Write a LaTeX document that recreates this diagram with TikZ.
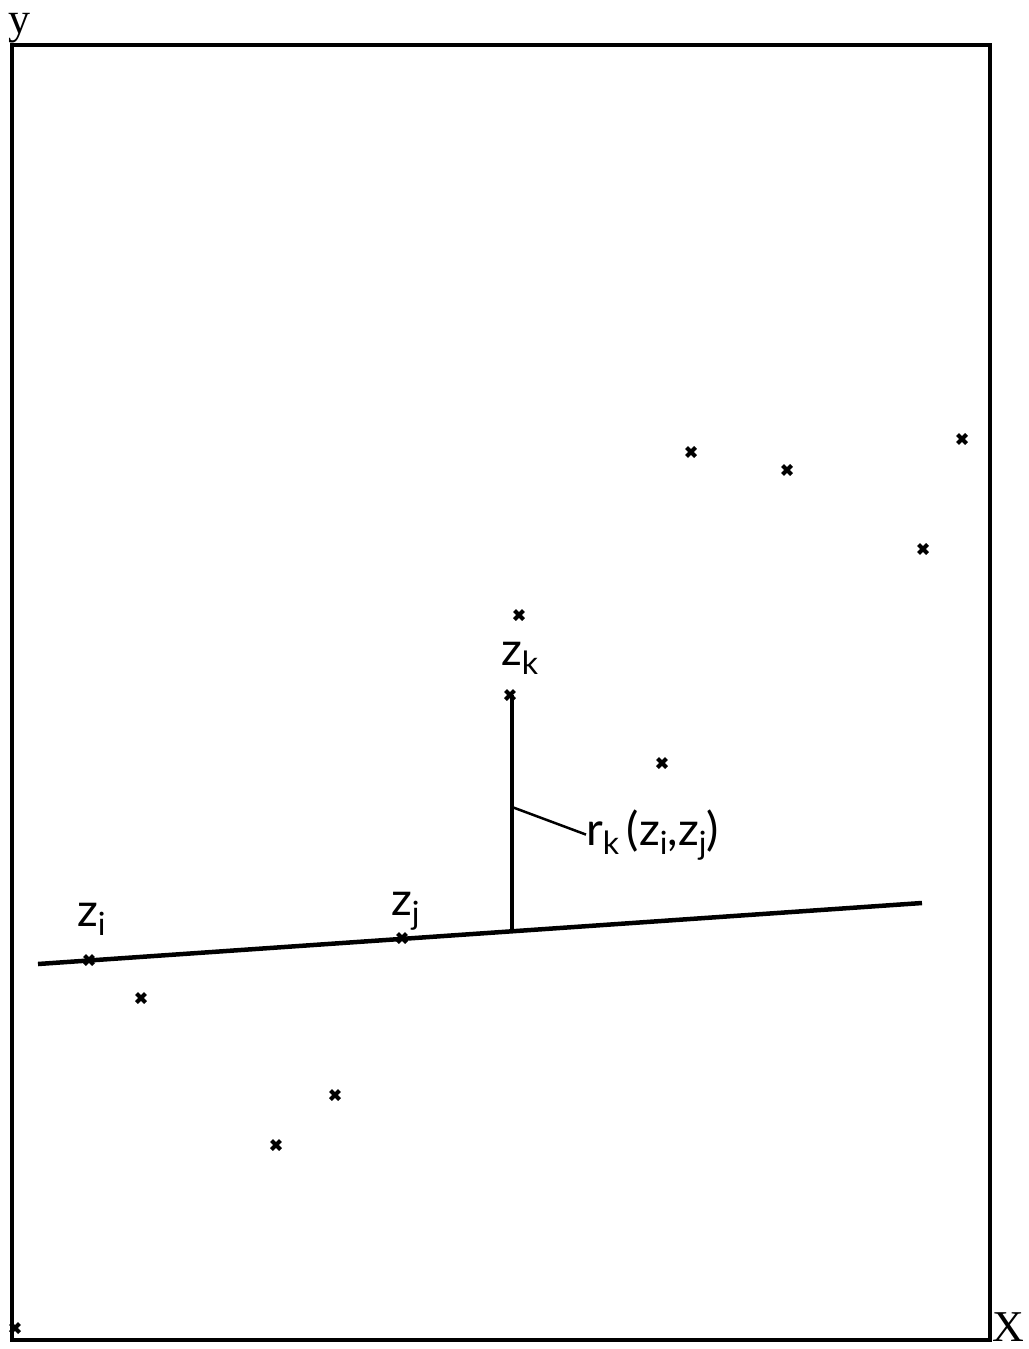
\documentclass[tikz,border=0pt]{standalone}
\usepackage{fontspec}
\setmainfont{Liberation Serif}
\newfontfamily\lblfont{Lato}
\tikzset{
  lbl/.style={font=\lblfont\fontsize{46}{50}\selectfont, inner sep=0pt, anchor=base west},
  axlbl/.style={font=\fontsize{44}{48}\selectfont, inner sep=0pt, anchor=base west},
  thick line/.style={line width=4.5pt},
  pt/.style={inner sep=0pt, minimum size=0pt},
}
\newcommand{\sbx}[1]{{\fontsize{32}{34}\selectfont\raisebox{-9pt}{#1}}}
\newcommand{\xmark}[2]{\node[pt] (#1) at (#2) {};
  \draw[line width=4pt] ([shift={(-4.5,-4.5)}]#1.center) -- ([shift={(4.5,4.5)}]#1.center)
    ([shift={(-4.5,4.5)}]#1.center) -- ([shift={(4.5,-4.5)}]#1.center);}
\begin{document}
\begin{tikzpicture}[x=1pt,y=-1pt]
\useasboundingbox (0,0) rectangle (1028,1349);
% frame
\draw[thick line] (12,45) rectangle (990,1340);
\node[axlbl] (ylab) at (8,33) {y};
\node[axlbl] (xlab) at (992,1341) {X};
% regression line
\coordinate (la) at (38,964);
\coordinate (lb) at (922,903);
\draw[thick line] (la) -- (lb);
% points
\xmark{p1}{691,452}
\xmark{p2}{787,470}
\xmark{p3}{962,439}
\xmark{p4}{923,549}
\xmark{p5}{519,615}
\xmark{zk}{510,695}
\xmark{p7}{662,763}
\xmark{p8}{141,998}
\xmark{p9}{335,1095}
\xmark{p10}{276,1145}
\xmark{zi}{89,960}
\xmark{zj}{402,938}
\xmark{p13}{15,1328}
% residual
\coordinate (top) at (512,695);
\coordinate (foot) at (512,931);
\draw[thick line] (top) -- (foot);
\coordinate (lead) at (512,807);
\node[lbl] (rlab) at (586,845) {r\sbx{k}\,(z\sbx{i},z\sbx{j})};
\draw[line width=2.5pt] (lead) -- (rlab.west);
% labels
\node[lbl] (zilab) at (77,926) {z\sbx{i}};
\node[lbl] (zjlab) at (391,915) {z\sbx{j}};
\node[lbl] (zklab) at (501,665) {z\sbx{k}};
\end{tikzpicture}
\end{document}
